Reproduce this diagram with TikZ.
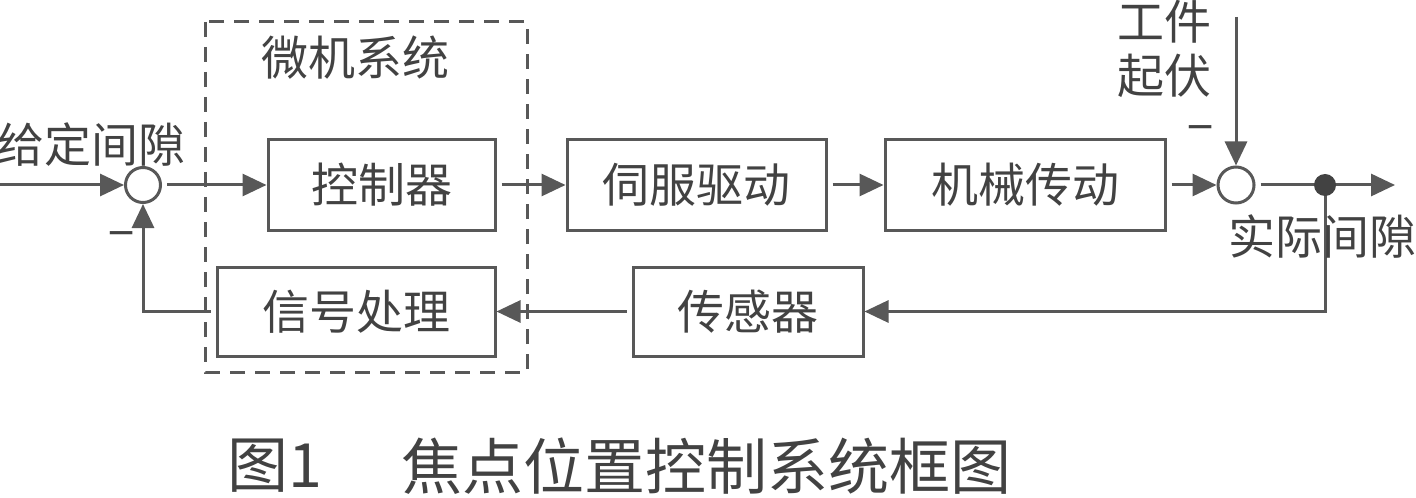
\documentclass[tikz,border=0pt]{standalone}
\usepackage{fontspec}
\setmainfont{Noto Sans CJK SC}
\usepackage{xcolor}
\definecolor{linegray}{RGB}{88, 88, 88}
\definecolor{textgray}{RGB}{66, 66, 66}
\usetikzlibrary{arrows.meta}

\begin{document}
\begin{tikzpicture}[x = 0.5pt, y = -0.5pt,
	blockbox/.style = {draw = linegray, line width = 1.5pt, minimum height = 45pt, inner sep = 0pt, font = \fontsize{23.5}{26}\selectfont, text = textgray},
	sumnode/.style = {circle, draw = linegray, line width = 1.5pt, minimum size = 17.5pt, inner sep = 0pt},
	lbl/.style = {font = \fontsize{23.5}{26}\selectfont, text = textgray, inner sep = 0pt},
	sig/.style = {draw = linegray, line width = 1.5pt, -{Triangle[length = 12pt, width = 11pt]}, shorten <= 2.5pt}]
	\useasboundingbox (0, 0) rectangle (1416, 497);
	% microcomputer
	\draw[linegray, line width = 1.5pt, dash pattern = on 7.5pt off 5pt] (205, 22) rectangle (527, 372);
	\node[lbl] (mcu) at (355, 58) {微机系统};
	% blocks
	\node[blockbox, minimum width = 113.5pt] (ctrl) at (381.5, 185) {控制器};
	\node[blockbox, minimum width = 139pt, minimum height = 44.5pt] (proc) at (356, 311.5) {信号处理};
	\node[blockbox, minimum width = 129.5pt] (servo) at (696.5, 185) {伺服驱动};
	\node[blockbox, minimum width = 140pt] (mech) at (1025, 185) {机械传动};
	\node[blockbox, minimum width = 115pt, minimum height = 44.5pt] (sensor) at (748, 311.5) {传感器};
	\node[sumnode] (sumin) at (143, 185) {};
	\node[sumnode, minimum size = 18pt] (sumout) at (1236, 185) {};
	\coordinate (tap) at (1325, 185);
	\coordinate (input) at (0, 185);
	\coordinate (output) at (1395, 185);
	\coordinate (dist) at (1236, 17);
	% forward path
	\draw[sig, shorten <= 0pt] (input) -- (sumin);
	\draw[sig] (sumin) -- (ctrl);
	\draw[sig] (ctrl) -- (servo);
	\draw[sig] (servo) -- (mech);
	\draw[sig] (mech) -- (sumout);
	\draw[sig] (sumout) -- (tap) -- (output);
	\draw[sig, shorten <= 0pt] (dist) -- (sumout);
	% feedback path
	\draw[sig, shorten <= 0pt] (tap) |- (sensor.east);
	\draw[sig] (sensor) -- (proc);
	\draw[sig] (proc.west) -| (sumin.south);
	\fill[textgray] (tap) circle (5.5pt);
	% labels
	\node[lbl] (gapin) at (91, 145) {给定间隙};
	\node[lbl] (minusin) at (122, 241) {−};
	\node[lbl] (work) at (1164, 22) {工件};
	\node[lbl] (wave) at (1164, 76) {起伏};
	\node[lbl] (minusout) at (1201, 135) {−};
	\node[lbl] (gapout) at (1322, 236) {实际间隙};
	\node[lbl, font = \fontsize{30.5}{34}\selectfont] (fignum) at (275, 466) {图1};
	\node[lbl, font = \fontsize{30.5}{34}\selectfont] (caption) at (706, 466) {焦点位置控制系统框图};
\end{tikzpicture}
\end{document}
